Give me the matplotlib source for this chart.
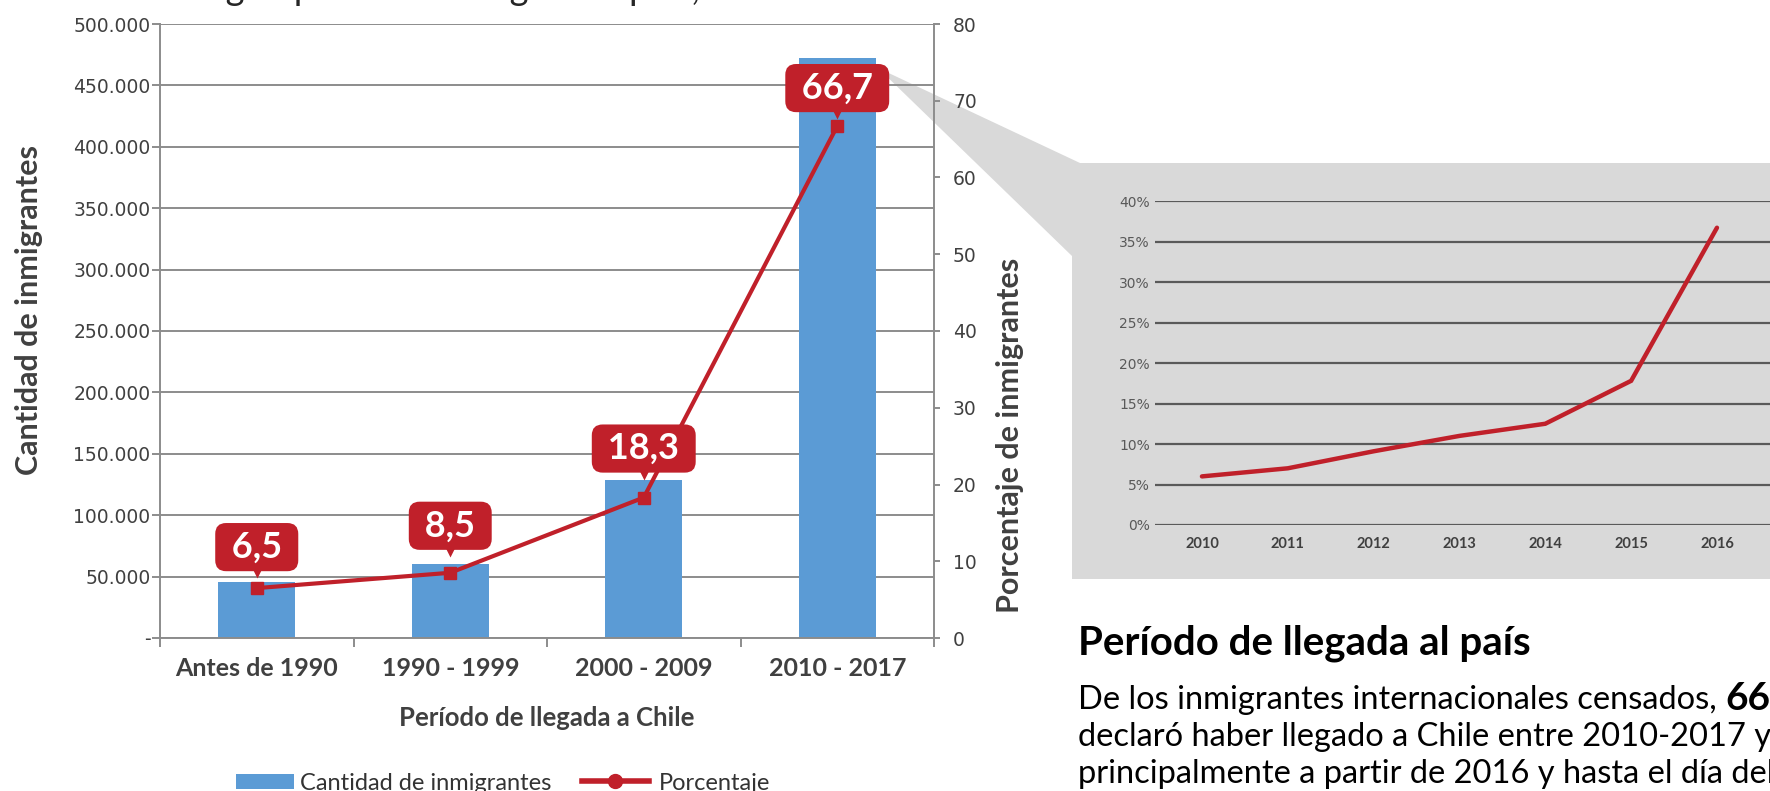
import matplotlib
matplotlib.use('Agg')
import matplotlib.pyplot as plt
from matplotlib.patches import Polygon, Patch
from matplotlib.lines import Line2D
from matplotlib.ticker import FuncFormatter
import matplotlib.transforms as mtransforms

# ---------------- data ----------------
categories = ['Antes de 1990', '1990 - 1999', '2000 - 2009', '2010 - 2017']
cantidad = [46000, 60000, 129000, 472000]
porcentaje = [6.5, 8.5, 18.3, 66.7]
porcentaje_labels = ['6,5', '8,5', '18,3', '66,7']
left_ticks = [0, 50000, 100000, 150000, 200000, 250000, 300000, 350000, 400000, 450000, 500000]
right_ticks = [0, 10, 20, 30, 40, 50, 60, 70, 80]

inset_years = ['2010', '2011', '2012', '2013', '2014', '2015', '2016']
inset_pct = [6.0, 7.0, 9.1, 11.0, 12.5, 17.8, 36.7]
inset_ticks = [0, 5, 10, 15, 20, 25, 30, 35, 40]

# ---------------- style ----------------
W, H = 1770, 791
RED = '#C0202A'
BLUE = '#5B9BD5'
GRID = '#8C8C8C'
DARK = '#404040'
GRAYBG = '#D9D9D9'
label_offsets_px = [41, 47, 49, 38]   # vertical offset of value boxes above the points


def fx(x):
    return x / W


def fy(y):
    return 1 - y / H


def px2pt(p):
    return p * 72.0 / 100.0


fig = plt.figure(figsize=(W / 100, H / 100), dpi=100)
fig.patch.set_facecolor('white')

# gray zoom wedge + panel
poly = Polygon([(fx(878), fy(68)), (fx(1080), fy(163)), (fx(1770), fy(163)),
                (fx(1770), fy(579)), (fx(1072), fy(579)), (fx(1072), fy(256))],
               closed=True, transform=fig.transFigure, facecolor=GRAYBG,
               edgecolor='none', zorder=-5)
fig.add_artist(poly)

# ---------------- main chart ----------------
ax = fig.add_axes([fx(160), fy(638), fx(934) - fx(160), fy(24) - fy(638)])
ax.patch.set_visible(False)
x = list(range(len(categories)))
ax.bar(x, cantidad, width=0.4, color=BLUE, zorder=2)
ax.set_xlim(-0.5, 3.5)
ax.set_ylim(0, 500000)
ax.set_yticks(left_ticks)


def thousands(v, pos):
    if v == 0:
        return '-'
    return f'{int(v):,}'.replace(',', '.')


ax.yaxis.set_major_formatter(FuncFormatter(thousands))
ax.set_axisbelow(True)
ax.yaxis.grid(True, color=GRID, lw=1.4)
ax.tick_params(axis='y', which='major', length=px2pt(8), width=1.4, color=GRID,
               pad=1, labelsize=13.5, labelcolor=DARK)
ax.set_xticks(x)
ax.set_xticklabels(categories, fontfamily='Lato', fontweight='bold', fontsize=18, color=DARK)
ax.tick_params(axis='x', which='major', length=0, pad=14)
ax.set_xticks([-0.5, 0.5, 1.5, 2.5, 3.5], minor=True)
ax.tick_params(axis='x', which='minor', length=px2pt(9), width=1.4, color=GRID)
ax.spines['top'].set_visible(False)
ax.spines['right'].set_visible(False)
for s in ['left', 'bottom']:
    ax.spines[s].set_color(GRID)
    ax.spines[s].set_linewidth(1.4)

ax2 = ax.twinx()
ax2.patch.set_visible(False)
ax2.set_ylim(0, 80)
ax2.set_yticks(right_ticks)
ax2.tick_params(axis='y', length=px2pt(6), width=1.4, color=GRID, pad=px2pt(13),
                labelsize=13.5, labelcolor=DARK)
for s in ['left', 'top', 'bottom']:
    ax2.spines[s].set_visible(False)
ax2.spines['right'].set_color(GRID)
ax2.spines['right'].set_linewidth(1.4)
ax2.plot(x, porcentaje, color=RED, lw=3, marker='s', ms=8, zorder=3)

for i, (p, lab, off) in enumerate(zip(porcentaje, porcentaje_labels, label_offsets_px)):
    ax2.annotate(' ' + lab + ' ', xy=(i, p), xytext=(0, px2pt(off)), textcoords='offset points',
                 ha='center', va='center', color='white', fontsize=26,
                 fontweight='bold', fontfamily='Lato', zorder=6,
                 bbox=dict(boxstyle='round,pad=0.21,rounding_size=0.3', fc=RED, ec='none'))
    tr = mtransforms.offset_copy(ax2.transData, fig=fig, x=0, y=px2pt(off - 25), units='points')
    ax2.plot([i], [p], marker='v', ms=8, color=RED, mec='none', transform=tr, zorder=5)

fig.text(fx(29), fy(310), 'Cantidad de inmigrantes', rotation=90, ha='center', va='center',
         fontsize=22, fontweight='bold', fontfamily='Lato', color=DARK)
fig.text(fx(1010), fy(435), 'Porcentaje de inmigrantes', rotation=90, ha='center', va='center',
         fontsize=22, fontweight='bold', fontfamily='Lato', color=DARK)
fig.text(fx(547), fy(718), 'Período de llegada a Chile', ha='center', va='center',
         fontsize=18.5, fontweight='bold', fontfamily='Lato', color=DARK)

# partial title at the top edge
fig.text(fx(191), 1.0, 'según período de llegada al país, 2017', ha='left', va='baseline',
         fontsize=26, fontfamily='Lato', color='#262626')

# legend (two parts so each handle keeps its own length)
leg1 = fig.legend([Patch(facecolor=BLUE, edgecolor='none')], ['Cantidad de inmigrantes'],
                  loc='center left', bbox_to_anchor=(fx(236), fy(783)), frameon=False,
                  prop={'family': 'Lato', 'size': 17}, labelcolor='#333333',
                  handlelength=2.44, handleheight=0.6, handletextpad=0.25,
                  borderpad=0, borderaxespad=0)
leg2 = fig.legend([Line2D([], [], color=RED, lw=4, marker='o', ms=10)], ['Porcentaje'],
                  loc='center left', bbox_to_anchor=(fx(582), fy(783)), frameon=False,
                  prop={'family': 'Lato', 'size': 17}, labelcolor='#333333',
                  handlelength=2.82, handletextpad=0.45,
                  borderpad=0, borderaxespad=0)

# ---------------- inset ----------------
axi = fig.add_axes([fx(1155), fy(525), 1 - fx(1155), fy(201) - fy(525)])
axi.patch.set_visible(False)
axi.plot(range(len(inset_years)), inset_pct, color=RED, lw=3.2, solid_capstyle='round',
         solid_joinstyle='miter', zorder=3)
axi.set_xlim(-0.547, 6.618)
axi.set_ylim(0, 40)
axi.set_yticks(inset_ticks)
axi.set_yticklabels([f'{t}%' for t in inset_ticks])
axi.yaxis.grid(True, color='#5A5A5A', lw=1.6)
axi.set_axisbelow(True)
axi.tick_params(axis='y', length=0, pad=3.6, labelsize=10, labelcolor='#595959')
axi.set_xticks(range(len(inset_years)))
axi.set_xticklabels(inset_years, fontfamily='Lato', fontweight='bold', fontsize=10.5, color=DARK)
axi.tick_params(axis='x', length=0, pad=8.6)
for s in axi.spines.values():
    s.set_visible(False)

# ---------------- right text block ----------------
fig.text(fx(1078), fy(655), 'Período de llegada al país', ha='left', va='baseline',
         fontsize=29, fontweight='bold', fontfamily='Lato', color='black')
t1 = fig.text(fx(1078), fy(709), 'De los inmigrantes internacionales censados, ', ha='left',
              va='baseline', fontsize=23.5, fontfamily='Lato', color='black')
ax.annotate('66,7%', xy=(1, 0), xycoords=t1, xytext=(0, 0), textcoords='offset points',
            ha='left', va='bottom', fontsize=28, fontweight='bold', fontfamily='Lato',
            color='black', annotation_clip=False)
fig.text(fx(1078), fy(746), 'declaró haber llegado a Chile entre 2010-2017 y casi la mitad',
         ha='left', va='baseline', fontsize=23.5, fontfamily='Lato', color='black')
fig.text(fx(1078), fy(783), 'principalmente a partir de 2016 y hasta el día del censo.',
         ha='left', va='baseline', fontsize=23.5, fontfamily='Lato', color='black')

fig.savefig('out.png', dpi=100)
